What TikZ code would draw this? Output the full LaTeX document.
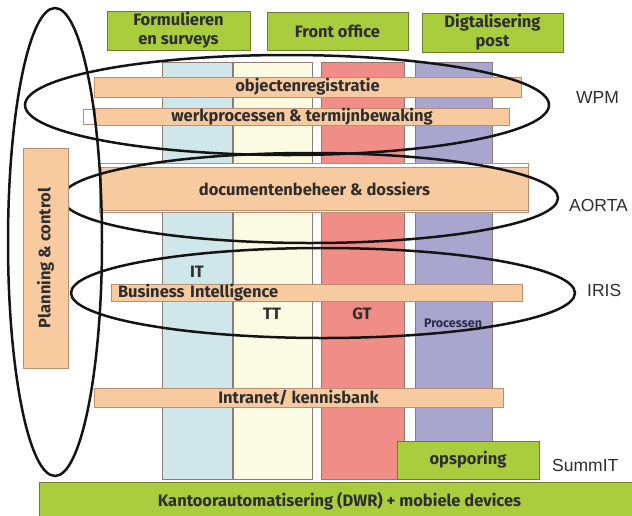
\documentclass[tikz,border=0pt]{standalone}
\usepackage{fontspec}
\setmainfont{Fira Sans}
\newfontfamily\tagfont{Liberation Sans}
\usepackage{tikz}
\definecolor{lime}{HTML}{A9CD3C}
\definecolor{limeline}{HTML}{6E7E2C}
\definecolor{peach}{HTML}{F7CA9F}
\definecolor{peachline}{HTML}{B98E72}
\definecolor{ice}{HTML}{CFE7EB}
\definecolor{cream}{HTML}{FBFBE3}
\definecolor{salmon}{HTML}{F08D86}
\definecolor{lilac}{HTML}{A8A6CE}
\definecolor{colline}{HTML}{8C7C74}
\definecolor{ink}{HTML}{2E2E2E}
\definecolor{navy}{HTML}{2A2D4A}
\definecolor{ring}{HTML}{141414}
\newcommand{\barfont}{\bfseries\fontsize{16.5}{19}\selectfont}
\newcommand{\Column}[3]{%
  \fill[color=#3] (#1,62) rectangle (#2,479);
  \draw[color=colline, line width=0.8pt] (#1,62) rectangle (#2,479);
}

\begin{document}
\begin{tikzpicture}[x=1pt,y=-1pt,
  strip/.style={draw=peachline, fill=peach, line width=0.8pt, inner sep=0pt, text=ink, font=\barfont},
  headbox/.style={draw=limeline, fill=lime, line width=1pt, inner sep=0pt, align=center, text=ink, font=\barfont},
  coltext/.style={text=ink, font=\barfont, inner sep=0pt},
  ringline/.style={draw=ring, line width=2.5pt},
  sidetag/.style={anchor=west, inner sep=0pt, text=ink, font=\tagfont\fontsize{17.5}{19}\selectfont}]
  \useasboundingbox (0,0) rectangle (632,515);

  % columns
  \Column{162}{232}{ice}
  \Column{233}{312}{cream}
  \Column{321}{404}{salmon}
  \Column{415}{492}{lilac}

  % horizontal bars
  \node[strip, minimum width=427, minimum height=20] (obj) at (307.5,87) {objectenregistratie};
  \draw[color=peachline, line width=0.6pt, fill=white] (83,109) rectangle (509,124);
  \node[strip, minimum width=414, minimum height=14] (werk) at (302,116.5) {werkprocessen \& termijnbewaking};
  \draw[color=peachline, line width=0.6pt, fill=white] (99,163) rectangle (528,212);
  \node[strip, minimum width=427, minimum height=43] (doc) at (314.5,188.5) {documentenbeheer \& dossiers};
  \node[strip, minimum width=411, minimum height=15, text width=397, align=left] (bi) at (316.5,292.5) {Business Intelligence};
  \node[strip, minimum width=409, minimum height=19] (intra) at (298.5,397.5) {Intranet/ kennisbank};

  \node[coltext] (it) at (197,272) {IT};
  \node[coltext] (tt) at (272,314) {TT};
  \node[coltext] (gt) at (362,314) {GT};
  \node[coltext, text=navy, font=\bfseries\fontsize{12.5}{14}\selectfont] (proc) at (453,323) {Processen};

  % rings
  \draw[ringline] (287,105) ellipse [x radius=262, y radius=50];
  \draw[ringline] (310,198) ellipse [x radius=248, y radius=45];
  \draw[ringline] (323,293) ellipse [x radius=252, y radius=45];

  \node[strip, minimum width=220, minimum height=45, rotate=90] (plan) at (45.5,258) {Planning \& control};
  \draw[ringline] (55,242) ellipse [x radius=47, y radius=234];

  % green blocks
  \node[headbox, minimum width=143, minimum height=39] (form) at (178.5,30.5) {Formulieren\\en surveys};
  \node[headbox, minimum width=141, minimum height=38] (front) at (337.5,31) {Front office};
  \node[headbox, minimum width=141, minimum height=39] (post) at (492.5,32.5) {Digtalisering\\post};
  \node[headbox, minimum width=142, minimum height=38] (opsp) at (468,460) {opsporing};
  \node[headbox, minimum width=601, minimum height=38] (kant) at (339.5,501) {Kantoorautomatisering (DWR) + mobiele devices};

  % system names
  \node[sidetag] (wpm) at (576,97) {WPM};
  \node[sidetag] (aorta) at (569,205) {AORTA};
  \node[sidetag] (iris) at (587,290) {IRIS};
  \node[sidetag] (summit) at (552,465) {SummIT};
\end{tikzpicture}
\end{document}
